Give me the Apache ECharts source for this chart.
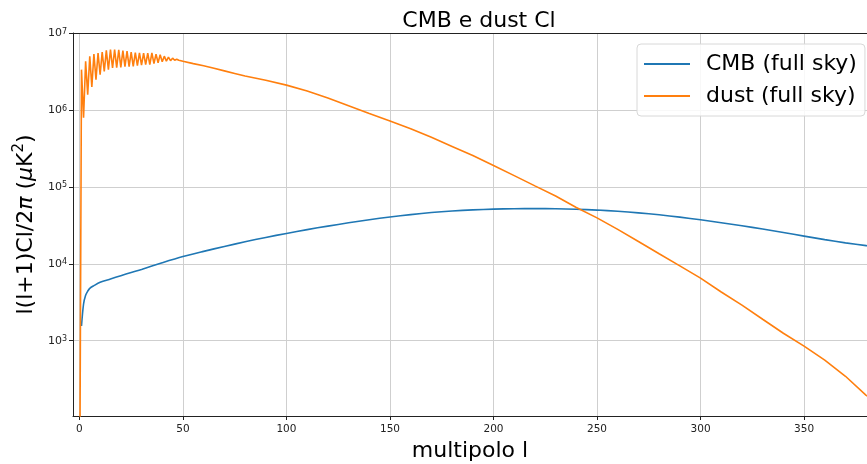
<!DOCTYPE html>
<html>
<head>
<meta charset="utf-8">
<script src="https://cdn.jsdelivr.net/npm/echarts@6/dist/echarts.min.js"></script>
<style>html,body{margin:0;padding:0;background:#fff}#c{width:867px;height:464px}</style>
</head>
<body>
<div id="c"></div>
<script>
// ---- data ----
const cmbL = [1,2,3,4,5,7,10,15,20,25,30,40,50,60,70,80,90,100,110,120,130,140,150,160,170,180,190,200,210,220,230,240,250,260,270,280,290,300,310,320,330,340,350,360,370,380,384];
const cmbV = [1550,3000,3900,4400,4800,5200,5750,6350,7000,7700,8450,10300,12400,14500,16800,19300,22000,24800,27800,30900,34100,37400,40600,43600,46300,48500,50200,51300,52000,52200,51900,51200,49900,48100,45900,43300,40400,37300,34200,31200,28300,25500,22900,20600,18700,17200,16700];

const dustL = [0,1,2,3,4,5,6,7,8,9,10,11,12,13,14,15,16,17,18,19,20,21,22,23,24,25,26,27,28,29,30,31,32,33,34,35,36,37,38,39,40,41,42,43,44,45,46,47,48,50,55,60,65,70,75,80,90,100,110,120,130,140,150,160,170,180,190,200,210,220,230,240,250,260,270,280,290,300,310,320,330,340,350,360,370,380,384];
const dustV = [1,3.34e6,7.9e5,4.28e6,1.58e6,4.97e6,1.99e6,5.33e6,2.48e6,5.5e6,2.87e6,5.66e6,3.17e6,5.94e6,3.34e6,6.07e6,3.51e6,6.07e6,3.54e6,6.02e6,3.57e6,5.89e6,3.65e6,5.81e6,3.65e6,5.63e6,3.68e6,5.55e6,3.76e6,5.5e6,3.82e6,5.47e6,3.88e6,5.47e6,3.88e6,5.5e6,3.99e6,5.31e6,4.11e6,5.23e6,4.24e6,5.0e6,4.31e6,4.85e6,4.37e6,4.71e6,4.43e6,4.57e6,4.43e6,4.3e6,4.0e6,3.75e6,3.48e6,3.22e6,2.98e6,2.76e6,2.43e6,2.1e6,1.76e6,1.43e6,1.135e6,9.0e5,7.2e5,5.7e5,4.4e5,3.35e5,2.55e5,1.9e5,1.4e5,1.03e5,7.6e4,5.4e4,3.95e4,2.8e4,1.95e4,1.35e4,9.4e3,6.5e3,4.3e3,2.9e3,1.9e3,1.25e3,850,560,345,195,165];

const xTicks = [0,50,100,150,200,250,300,350];
const seriesNames = ['CMB (full sky)', 'dust (full sky)'];

const chart = echarts.init(document.getElementById('c'), null, {renderer: 'canvas'});
const FONT = 'DejaVu Sans';
const pairs = (xs, ys) => xs.map((x, i) => [x, ys[i]]);

chart.setOption({
  animation: false,
  backgroundColor: '#ffffff',
  textStyle: {fontFamily: FONT},
  title: {
    text: 'CMB e dust Cl',
    left: 474, top: 5, textAlign: 'center',
    textStyle: {fontFamily: FONT, fontSize: 22, fontWeight: 'normal', color: '#000'}
  },
  legend: {
    orient: 'vertical',
    left: 637, top: 44,
    data: seriesNames,
    icon: 'rect',
    itemWidth: 46, itemHeight: 2,
    itemGap: 10,
    padding: [9, 8, 9, 7],
    backgroundColor: 'rgba(255,255,255,0.85)',
    borderColor: '#d8d8d8', borderWidth: 1, borderRadius: 4,
    textStyle: {fontFamily: FONT, fontSize: 22, color: '#000', padding: [0, 0, 0, 11]}
  },
  grid: {left: 73, top: 33, right: 0, bottom: 48, containLabel: false, outerBoundsMode: 'none'},
  xAxis: [{
    type: 'value', min: -3.1, max: 380.4, splitNumber: 8,
    name: 'multipolo l', nameLocation: 'middle', nameGap: 23,
    nameTextStyle: {fontFamily: FONT, fontSize: 22, color: '#000'},
    axisLine: {show: true, onZero: false, lineStyle: {color: '#222', width: 1}},
    axisTick: {show: true, length: 4, inside: false, lineStyle: {color: '#222'}},
    axisLabel: {
      fontFamily: FONT, fontSize: 10.5, color: '#222', margin: 8,
      showMinLabel: false, showMaxLabel: false,
      formatter: v => (xTicks.indexOf(Math.round(v)) >= 0 && Math.abs(v - Math.round(v)) < 1e-6) ? String(Math.round(v)) : ''
    },
    splitLine: {show: true, lineStyle: {color: '#cfcfcf', width: 1}}
  }, {
    type: 'value', position: 'top', min: -3.1, max: 380.4,
    axisLine: {show: true, onZero: false, lineStyle: {color: '#222', width: 1}},
    axisTick: {show: false}, axisLabel: {show: false}, splitLine: {show: false}
  }],
  yAxis: {
    type: 'log', logBase: 10, min: 105, max: 1e7,
    name: '{t|l(l+1)Cl/2}{i|π}{t| (}{i|μ}{t|K}{s|2}{t|)}',
    nameLocation: 'middle', nameGap: 33, nameRotate: 90,
    nameTextStyle: {
      fontFamily: FONT, fontSize: 22, color: '#000',
      rich: {
        t: {fontFamily: FONT, fontSize: 22, color: '#000', lineHeight: 28},
        i: {fontFamily: FONT, fontSize: 22, fontStyle: 'italic', color: '#000', lineHeight: 28},
        s: {fontFamily: FONT, fontSize: 15, color: '#000', verticalAlign: 'top', lineHeight: 20}
      }
    },
    axisLine: {show: true, onZero: false, lineStyle: {color: '#222', width: 1}},
    axisTick: {show: true, length: 4, lineStyle: {color: '#222'}},
    axisLabel: {
      fontFamily: FONT, fontSize: 11, color: '#222', margin: 6,
      showMinLabel: false,
      formatter: v => {
        const e = Math.log10(v);
        if (Math.abs(e - Math.round(e)) < 1e-6) return '10{s|' + Math.round(e) + '}';
        return '';
      },
      rich: {s: {fontSize: 8, color: '#222', verticalAlign: 'top', lineHeight: 10}}
    },
    splitLine: {show: true, lineStyle: {color: '#cfcfcf', width: 1}}
  },
  series: [{
    name: seriesNames[0], type: 'line', xAxisIndex: 0,
    data: pairs(cmbL, cmbV), showSymbol: false, smooth: 0.3, clip: true,
    lineStyle: {color: '#1f77b4', width: 1.6}, itemStyle: {color: '#1f77b4'}
  }, {
    name: seriesNames[1], type: 'line', xAxisIndex: 0,
    data: pairs(dustL, dustV), showSymbol: false, clip: true,
    lineStyle: {color: '#ff7f0e', width: 1.6}, itemStyle: {color: '#ff7f0e'}
  }]
});
</script>
</body>
</html>
